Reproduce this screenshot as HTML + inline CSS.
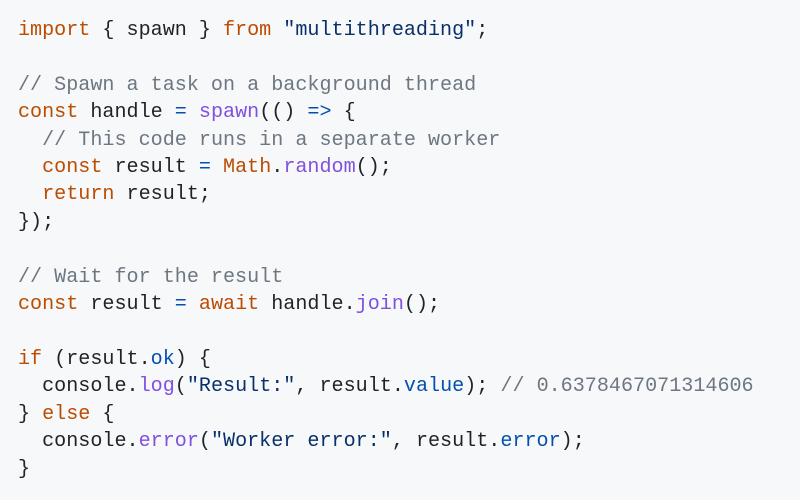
<!DOCTYPE html>
<html><head><style>
html,body{margin:0;padding:0;background:#f6f8fa;width:800px;height:500px;overflow:hidden}
pre{margin:0;position:absolute;left:18px;top:17px;font-family:"Liberation Mono",monospace;font-size:20.1px;line-height:27.4px;color:#1f2328}
.k{color:#bc4c00}.s{color:#0a3069}.f{color:#8250df}.o{color:#0550ae}.c{color:#6e7781}
</style></head><body>
<pre><span class="k">import</span> { spawn } <span class="k">from</span> <span class="s">"multithreading"</span>;

<span class="c">// Spawn a task on a background thread</span>
<span class="k">const</span> handle <span class="o">=</span> <span class="f">spawn</span>(() <span class="o">=&gt;</span> {
  <span class="c">// This code runs in a separate worker</span>
  <span class="k">const</span> result <span class="o">=</span> <span class="k">Math</span>.<span class="f">random</span>();
  <span class="k">return</span> result;
});

<span class="c">// Wait for the result</span>
<span class="k">const</span> result <span class="o">=</span> <span class="k">await</span> handle.<span class="f">join</span>();

<span class="k">if</span> (result.<span class="o">ok</span>) {
  console.<span class="f">log</span>(<span class="s">"Result:"</span>, result.<span class="o">value</span>); <span class="c">// 0.6378467071314606</span>
} <span class="k">else</span> {
  console.<span class="f">error</span>(<span class="s">"Worker error:"</span>, result.<span class="o">error</span>);
}</pre>
</body></html>
